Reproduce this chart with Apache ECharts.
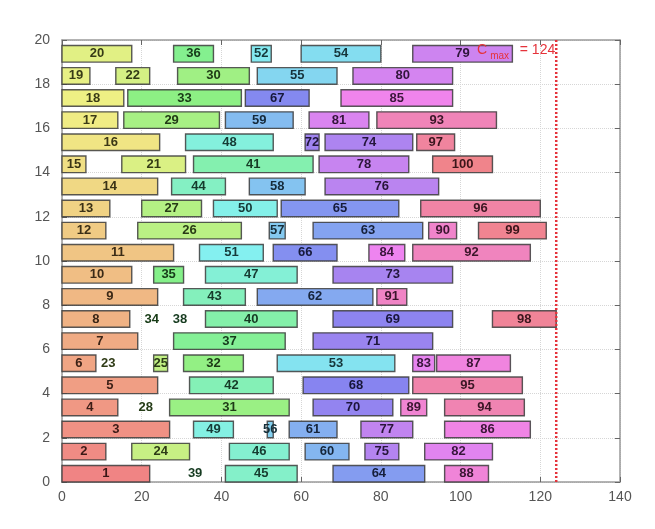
<!DOCTYPE html>
<html>
<head>
<meta charset="utf-8">
<script src="https://cdn.jsdelivr.net/npm/echarts@6/dist/echarts.min.js"></script>
<style>
html,body{margin:0;padding:0;background:#fff;}
#chart{width:655px;height:529px;}
</style>
</head>
<body>
<div id="chart"></div>
<script>
// ---- data ----
const jobIds = [
  1,39,45,64,88,
  2,24,46,60,75,82,
  3,49,56,61,77,86,
  4,28,31,70,89,94,
  5,42,68,95,
  6,23,25,32,53,83,87,
  7,37,71,
  8,34,38,40,69,98,
  9,43,62,91,
  10,35,47,73,
  11,51,66,84,92,
  12,26,57,63,90,99,
  13,27,50,65,96,
  14,44,58,76,
  15,21,41,78,100,
  16,48,72,74,97,
  17,29,59,81,93,
  18,33,67,85,
  19,22,30,55,80,
  20,36,52,54,79
];
const machineRows = [
  0,0,0,0,0,
  1,1,1,1,1,1,
  2,2,2,2,2,2,
  3,3,3,3,3,3,
  4,4,4,4,
  5,5,5,5,5,5,5,
  6,6,6,
  7,7,7,7,7,7,
  8,8,8,8,
  9,9,9,9,
  10,10,10,10,10,
  11,11,11,11,11,11,
  12,12,12,12,12,
  13,13,13,13,
  14,14,14,14,14,
  15,15,15,15,15,
  16,16,16,16,16,
  17,17,17,17,
  18,18,18,18,18,
  19,19,19,19,19
];
const startTimes = [
  0,33.4,41,68,96,
  0,17.5,42,61,76,91,
  0,33,51.5,57,75,96,
  0,21,27,63,85,96,
  0,32,60.5,88,
  0,11.6,23,30.5,54,88,94,
  0,28,63,
  0,22.5,29.6,36,68,108,
  0,30.5,49,79,
  0,23,36,68,
  0,34.5,53,77,88,
  0,19,52,63,92,104.5,
  0,20,38,55,90,
  0,27.5,47,66,
  0,15,33,64.5,93,
  0,31,61,66,89,
  0,15.5,41,62,79,
  0,16.5,46,70,
  0,13.5,29,49,73,
  0,28,47.5,60,88
];
const endTimes = [
  22,33.4,59,91,107,
  11,32,57,72,84.5,108,
  27,43,53,69,88,117.5,
  14,21,57,83,91.5,116,
  24,53,87,115.5,
  8.5,11.6,26.5,45.5,83.5,93.5,112.5,
  19,56,93,
  17,22.5,29.6,59,98,124,
  24,46,78,86.5,
  17.5,30.5,59,98,
  28,50.5,69,86,117.5,
  11,45,56,90.5,99,121.5,
  12,35,54,84.5,120,
  24,41,61,94.5,
  6,31,63,87,108,
  24.5,53,64.5,88,98.5,
  14,39.5,58,77,109,
  15.5,45,62,98,
  7,22,47,69,98,
  17.5,38,52.5,80,113
];
const xTicks = [0, 20, 40, 60, 80, 100, 120, 140];
const yTicks = [0, 2, 4, 6, 8, 10, 12, 14, 16, 18, 20];
const makespan = 124;
const makespanLabel = ['C', 'max', '  = 124'];

// ---- build ----
const barHeight = 0.75;
const jobCount = 100;
function fillColor(id) {
  const h = (id - 1) / jobCount * 360;
  return 'hsl(' + h.toFixed(1) + ',78%,73%)';
}
function textColor(id) {
  const h = (id - 1) / jobCount * 360;
  return 'hsl(' + h.toFixed(1) + ',45%,16%)';
}
const taskData = jobIds.map((id, i) => [startTimes[i], endTimes[i], machineRows[i], id]);

const axisCommon = {
  type: 'value',
  axisLine: { show: true, onZero: false, lineStyle: { color: '#9a9a9a', width: 1.5 } },
  axisTick: { show: true, inside: true, length: 5, lineStyle: { color: '#666', width: 1 } },
};

const chart = echarts.init(document.getElementById('chart'));
chart.setOption({
  backgroundColor: '#ffffff',
  animation: false,
  grid: { left: 62, right: 35, top: 40, bottom: 47 },
  xAxis: [
    Object.assign({}, axisCommon, {
      position: 'bottom', min: xTicks[0], max: xTicks[xTicks.length - 1], interval: xTicks[1] - xTicks[0],
      axisLabel: { color: '#555', fontSize: 14, margin: 8, fontFamily: 'Liberation Sans' },
      splitLine: { show: true, lineStyle: { color: '#d6d6d6', type: 'dotted', width: 1 } }
    }),
    Object.assign({}, axisCommon, {
      position: 'top', min: xTicks[0], max: xTicks[xTicks.length - 1], interval: xTicks[1] - xTicks[0],
      axisLabel: { show: false }, splitLine: { show: false }
    })
  ],
  yAxis: [
    Object.assign({}, axisCommon, {
      position: 'left', min: yTicks[0], max: yTicks[yTicks.length - 1], interval: yTicks[1] - yTicks[0],
      axisLabel: { color: '#555', fontSize: 14, margin: 12, fontFamily: 'Liberation Sans' },
      splitLine: { show: true, lineStyle: { color: '#d6d6d6', type: 'dotted', width: 1 } }
    }),
    Object.assign({}, axisCommon, {
      position: 'right', min: yTicks[0], max: yTicks[yTicks.length - 1], interval: yTicks[1] - yTicks[0],
      axisLabel: { show: false }, splitLine: { show: false }
    })
  ],
  series: [
    {
      type: 'custom',
      xAxisIndex: 0, yAxisIndex: 0,
      encode: { x: [0, 1], y: 2 },
      data: taskData,
      z: 3,
      renderItem: function (params, api) {
        const s = api.value(0), e = api.value(1), r = api.value(2), id = api.value(3);
        const p0 = api.coord([s, r]);
        const p1 = api.coord([e, r + barHeight]);
        const children = [];
        const w = p1[0] - p0[0];
        if (w > 0.5) {
          children.push({
            type: 'rect',
            shape: { x: p0[0], y: p1[1], width: w, height: p0[1] - p1[1] },
            style: { fill: fillColor(id), stroke: 'rgba(60,60,60,0.85)', lineWidth: 1.4 }
          });
        }
        children.push({
          type: 'text',
          style: {
            text: String(id),
            x: (p0[0] + p1[0]) / 2, y: (p0[1] + p1[1]) / 2,
            align: 'center', verticalAlign: 'middle',
            fill: textColor(id),
            font: 'bold 13px "Liberation Sans", Arial, sans-serif'
          }
        });
        return { type: 'group', children: children };
      }
    },
    {
      type: 'custom',
      xAxisIndex: 0, yAxisIndex: 0,
      encode: { x: 0, y: 1 },
      data: [[makespan, yTicks[0], yTicks[yTicks.length - 1]]],
      z: 5,
      renderItem: function (params, api) {
        const a = api.coord([api.value(0), api.value(1)]);
        const b = api.coord([api.value(0), api.value(2)]);
        const t = api.coord([api.value(0), 19.55]);
        return {
          type: 'group',
          children: [
            {
              type: 'line',
              shape: { x1: a[0], y1: a[1], x2: b[0], y2: b[1] },
              style: { stroke: '#e5333b', lineWidth: 2.5, lineDash: [2, 2] }
            },
            {
              type: 'text',
              style: {
                text: '{c|' + makespanLabel[0] + '}{s|' + makespanLabel[1] + '}{c|' + makespanLabel[2] + '}',
                x: t[0] - 1, y: t[1] + 2,
                align: 'right', verticalAlign: 'middle',
                rich: {
                  c: { fill: '#e5333b', fontSize: 14, fontFamily: 'Liberation Sans', verticalAlign: 'top', lineHeight: 18 },
                  s: { fill: '#e5333b', fontSize: 10, fontFamily: 'Liberation Sans', verticalAlign: 'bottom', lineHeight: 18, padding: [0, 3, 0, 3] }
                }
              }
            }
          ]
        };
      }
    }
  ]
});
</script>
</body>
</html>
